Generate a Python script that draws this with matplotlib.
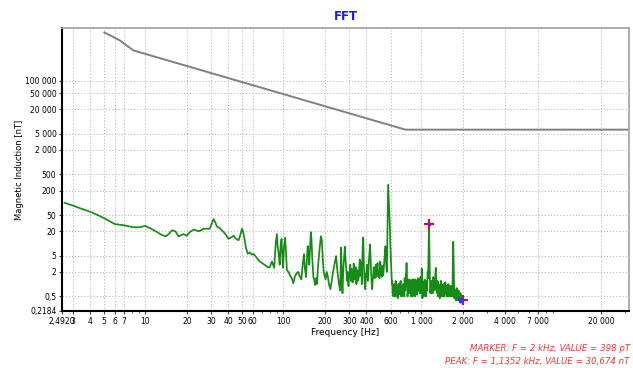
import matplotlib.pyplot as plt
from matplotlib.ticker import FixedLocator, FixedFormatter, NullLocator

# spectrum: (frequency Hz, induction nT)
low_band = [(2.6, 100), (3.0, 85), (3.5, 70), (4.0, 60), (4.7, 47), (5.3, 38), (6.0, 30),
            (7.0, 28), (8.2, 25), (9.0, 25), (10.0, 27), (11.0, 23), (12.2, 19), (13.2, 16),
            (14.1, 15), (15.0, 18), (15.6, 21), (16.5, 20), (17.4, 15), (18.2, 16), (18.9, 17),
            (20.0, 15.5), (21.0, 19), (22.4, 22), (23.3, 21), (24.3, 20), (25.3, 21), (26.4, 23),
            (28.0, 23), (29.2, 23), (30.2, 30), (31.2, 40), (32.0, 34), (33.0, 26), (34.5, 24),
            (35.9, 21), (37.5, 18), (40.1, 13), (41.8, 14), (43.6, 15.5), (45.5, 13), (47.4, 12),
            (49.0, 17), (50.1, 23), (51.0, 20), (52.1, 14), (53.5, 8), (55.1, 5.6), (57.0, 6.0),
            (59.0, 5.3), (60.9, 5.5), (63, 4.8), (66.2, 3.8), (70, 3.3), (74, 2.9), (77, 2.6),
            (79.6, 2.6), (82.6, 3.6), (85.8, 2.5), (88, 10), (89.8, 17), (91, 8), (92.5, 5.5),
            (94, 3), (95.5, 9), (97, 13), (98.5, 4), (99.6, 2.5), (101, 8), (103, 14),
            (104.5, 6), (106, 2.2)]

mid_band = [(109, 2.0), (112, 1.6), (115, 1.4), (118, 1.05), (121, 1.5), (124, 1.8), (128, 2.0),
            (131, 1.6), (135, 1.3), (138, 3), (141, 5.5), (143, 2.5), (146, 1.5), (148, 4),
            (150, 8.6), (152, 6), (154, 3), (156, 8), (158, 19), (160, 12), (162, 4), (165, 1.5),
            (168, 1.2), (170, 0.95), (173, 1.4), (175, 1.0), (178, 2.5), (181, 5), (184, 9),
            (187, 15), (190, 12), (193, 4), (196, 2), (199, 1.6), (202, 1.3), (206, 2.0),
            (210, 1.5), (214, 1.0), (219, 0.75), (224, 1.2), (229, 2.0), (234, 3.0), (238, 4.0),
            (241, 4.9), (245, 2.5), (249, 1.5), (253, 1.0), (258, 0.7), (262, 7.9), (265, 1.5),
            (268, 0.6), (272, 2.5), (276, 5), (279, 8.3), (281, 4.9), (285, 2.5), (290, 1.2),
            (293, 2.0), (296, 0.9), (299, 1.8), (302, 1.5), (305, 3.0), (308, 1.2), (311, 2.4),
            (314, 2.0), (317, 1.1), (320, 1.5), (323, 3.2), (326, 2.5), (329, 1.3), (332, 1.5),
            (335, 2.6), (338, 1.0), (341, 1.8), (345, 2.2), (348, 1.2), (352, 1.5), (355, 2.8),
            (358, 4), (361, 1.6), (364, 2), (367, 3.5), (370, 1.0), (375, 8), (379, 14), (383, 3),
            (387, 1.2), (392, 0.75), (395, 1.8), (398, 1.5), (401, 2.5), (405, 3), (408, 1.2),
            (412, 1.5), (416, 3.5), (420, 5.9), (425, 9.5), (430, 3), (435, 1.2), (440, 0.75),
            (444, 1.3), (447, 1.5), (451, 2.6), (455, 2.2), (459, 1.4), (463, 2.2), (467, 3.0),
            (472, 1.5), (476, 2.4), (481, 3.3), (485, 2.0), (490, 1.6), (497, 1.4), (503, 3.6),
            (510, 2.0), (516, 1.5), (522, 2.8), (526, 1.6), (530, 1.8), (534, 2.6), (538, 3.5),
            (544, 6), (549, 8.6), (556, 3), (562, 2), (568, 20), (574, 280), (580, 120),
            (585, 60), (590, 31), (595, 10), (600, 5)]

high_band = [(607, 1.9), (611, 1.0), (615, 1.2), (619, 0.6), (622, 0.8), (626, 0.5), (630, 0.6),
             (634, 1.0), (638, 0.9), (642, 0.5), (646, 0.7), (650, 1.2), (654, 1.1), (658, 0.6),
             (662, 0.5), (666, 0.8), (670, 0.9), (674, 0.45), (677, 0.6), (681, 1.0), (684, 0.9),
             (688, 0.55), (692, 1.0), (696, 0.6), (700, 0.7), (704, 1.1), (708, 1.2), (712, 0.5),
             (716, 0.55), (720, 0.9), (723, 0.9), (727, 0.5), (731, 0.6), (736, 1.0), (740, 1.0),
             (744, 0.6), (748, 0.8), (752, 0.5), (756, 1.4), (760, 0.7), (764, 0.7), (768, 1.1),
             (772, 1.8), (776, 0.9), (780, 3.3), (784, 1.2), (788, 1.0), (793, 0.5), (797, 0.6),
             (801, 1.3), (805, 1.1), (809, 0.6), (813, 0.7), (817, 1.2), (821, 1.3), (825, 0.6),
             (829, 0.6), (833, 1.0), (837, 0.75), (841, 0.5), (845, 1.2), (849, 0.7), (853, 0.6),
             (858, 1.3), (862, 1.0), (866, 0.5), (870, 0.55), (875, 1.0), (879, 1.3), (884, 0.6),
             (888, 0.7), (893, 1.1), (897, 1.0), (902, 0.5), (906, 1.3), (911, 0.8), (916, 0.6),
             (921, 1.0), (926, 1.0), (931, 0.55), (935, 0.7), (940, 1.2), (945, 1.4), (950, 0.7),
             (955, 0.8), (960, 1.3), (965, 1.2), (970, 0.6), (975, 0.6), (980, 1.0), (985, 1.5),
             (990, 0.8), (995, 0.6), (1000, 1.0), (1005, 2.4), (1012, 0.8), (1016, 0.45),
             (1020, 0.5), (1024, 0.9), (1028, 0.6), (1032, 1.1), (1036, 0.9), (1040, 0.5),
             (1045, 0.7), (1050, 1.2), (1055, 1.3), (1060, 0.6), (1065, 0.8), (1070, 1.1),
             (1075, 1.0), (1080, 0.5), (1085, 0.6), (1090, 1.2), (1095, 1.2), (1100, 0.7),
             (1105, 1.4), (1110, 2.0), (1115, 1.4), (1120, 2.0), (1125, 5), (1131, 20),
             (1135.2, 30.674), (1140, 12), (1148, 2), (1152, 1.2), (1156, 1.0), (1161, 0.6),
             (1166, 0.8), (1171, 1.1), (1176, 0.75), (1181, 0.6), (1186, 1.2), (1191, 0.9),
             (1196, 0.7), (1202, 1.1), (1208, 1.0), (1214, 0.6), (1220, 1.5), (1226, 0.9),
             (1232, 0.8), (1238, 1.3), (1245, 0.7), (1251, 1.3), (1258, 0.9), (1264, 1.8),
             (1270, 2.5), (1276, 1.2), (1282, 0.8), (1288, 1.0), (1295, 0.6), (1301, 0.7),
             (1308, 1.2), (1314, 1.1), (1320, 0.6), (1326, 0.5), (1333, 0.9), (1340, 0.6),
             (1346, 0.5), (1352, 0.9), (1358, 0.45), (1363, 0.8), (1368, 1.0), (1374, 0.75),
             (1380, 0.6), (1386, 1.2), (1393, 0.8), (1400, 0.6), (1406, 0.5), (1413, 0.9),
             (1420, 0.6), (1427, 0.5), (1434, 0.6), (1441, 1.0), (1448, 0.5), (1455, 0.6),
             (1462, 0.9), (1468, 0.5), (1475, 0.8), (1480, 1.1), (1485, 1.0), (1492, 1.1),
             (1500, 0.6), (1507, 0.6), (1515, 0.9), (1522, 0.6), (1530, 0.5), (1537, 0.8),
             (1545, 0.8), (1552, 0.5), (1560, 0.6), (1567, 1.0), (1575, 0.5), (1582, 0.6),
             (1590, 0.7), (1600, 0.6), (1610, 0.9), (1617, 0.68), (1625, 0.5), (1632, 0.9),
             (1640, 0.6), (1647, 0.5), (1655, 0.6), (1662, 0.8), (1670, 0.5), (1677, 0.6),
             (1685, 2), (1700, 11), (1712, 3), (1725, 0.7), (1732, 0.45), (1740, 0.6),
             (1747, 0.5), (1755, 0.45), (1762, 0.6), (1770, 0.7), (1777, 0.4), (1785, 0.5),
             (1792, 0.6), (1800, 0.8), (1807, 0.4), (1815, 0.45), (1822, 0.55), (1830, 0.6),
             (1837, 0.4), (1845, 0.4), (1852, 0.6), (1860, 0.7), (1867, 0.4), (1875, 0.45),
             (1882, 0.6), (1890, 0.5), (1897, 0.38), (1905, 0.4), (1912, 0.5), (1920, 0.6),
             (1927, 0.35), (1935, 0.35), (1942, 0.45), (1950, 0.5), (1957, 0.4), (1965, 0.4),
             (1972, 0.5), (1980, 0.45), (1990, 0.4), (2000, 0.398)]

# exposure limit curve
limit_freq = [5.05, 6.5, 8.2, 766, 32000]
limit_val = [1.55e6, 1.0e6, 5.6e5, 6300, 6300]

peak = (1135.2, 30.674)
marker = (2000, 0.398)

xticks = [2.492, 3, 4, 5, 6, 7, 10, 20, 30, 40, 50, 60, 100, 200, 300, 400, 600,
          1000, 2000, 4000, 7000, 20000]
xlabels = ['2,4920', '3', '4', '5', '6', '7', '10', '20', '30', '40', '50', '60', '100',
           '200', '300', '400', '600', '1 000', '2 000', '4 000', '7 000', '20 000']
yticks = [0.2184, 0.5, 2, 5, 20, 50, 200, 500, 2000, 5000, 20000, 50000, 100000]
ylabels = ['0,2184', '0,5', '2', '5', '20', '50', '200', '500', '2 000', '5 000',
           '20 000', '50 000', '100 000']

spectrum = low_band + mid_band + high_band
freq = [p[0] for p in spectrum]
induction = [p[1] for p in spectrum]

fig = plt.figure(figsize=(6.33, 3.68), dpi=100)
ax = fig.add_axes([0.098, 0.155, 0.896, 0.769])

ax.plot(limit_freq, limit_val, color='#808080', lw=1.4)
ax.plot(freq, induction, color='#168c16', lw=1.25)

ax.plot(*peak, marker='+', color='red', ms=7, mew=1.5)
ax.plot(*peak, marker='s', color='#2040ff', ms=2)
ax.plot(*marker, marker='+', color='red', ms=7, mew=1.5)
ax.plot(marker[0] * 0.96, marker[1], marker='s', color='#2040ff', ms=3)

ax.set_xscale('log')
ax.set_yscale('log')
ax.set_xlim(2.492, 32000)
ax.set_ylim(0.2184, 2e6)

ax.xaxis.set_major_locator(FixedLocator(xticks))
ax.xaxis.set_major_formatter(FixedFormatter(xlabels))
ax.yaxis.set_major_locator(FixedLocator(yticks))
ax.yaxis.set_major_formatter(FixedFormatter(ylabels))
ax.yaxis.set_minor_locator(NullLocator())
ax.tick_params(axis='both', which='major', labelsize=5.5, length=2, pad=2, color='#444444')
ax.tick_params(axis='x', which='minor', length=1.5, color='#444444')

ax.grid(True, which='major', color='#b8b8b8', ls=(0, (1.2, 2)), lw=0.7)

for side in ['left', 'bottom']:
    ax.spines[side].set_color('black')
    ax.spines[side].set_linewidth(1.5)
for side in ['top', 'right']:
    ax.spines[side].set_color('#a0a0a0')
    ax.spines[side].set_linewidth(1.2)

ax.set_title('FFT', color='#1a1aff', fontweight='bold', fontsize=8.5, pad=6)
ax.set_xlabel('Frequency [Hz]', fontsize=6.5, labelpad=2)
ax.set_ylabel('Magnetic Induction [nT]', fontsize=6, labelpad=1)

fig.text(0.995, 0.052, 'MARKER: F = 2 kHz, VALUE = 398 pT', color='#ff3030',
         fontsize=6.2, style='italic', ha='right', va='center')
fig.text(0.995, 0.017, 'PEAK: F = 1,1352 kHz, VALUE = 30,674 nT', color='#ff3030',
         fontsize=6.2, style='italic', ha='right', va='center')

fig.savefig('out.png', dpi=100)
